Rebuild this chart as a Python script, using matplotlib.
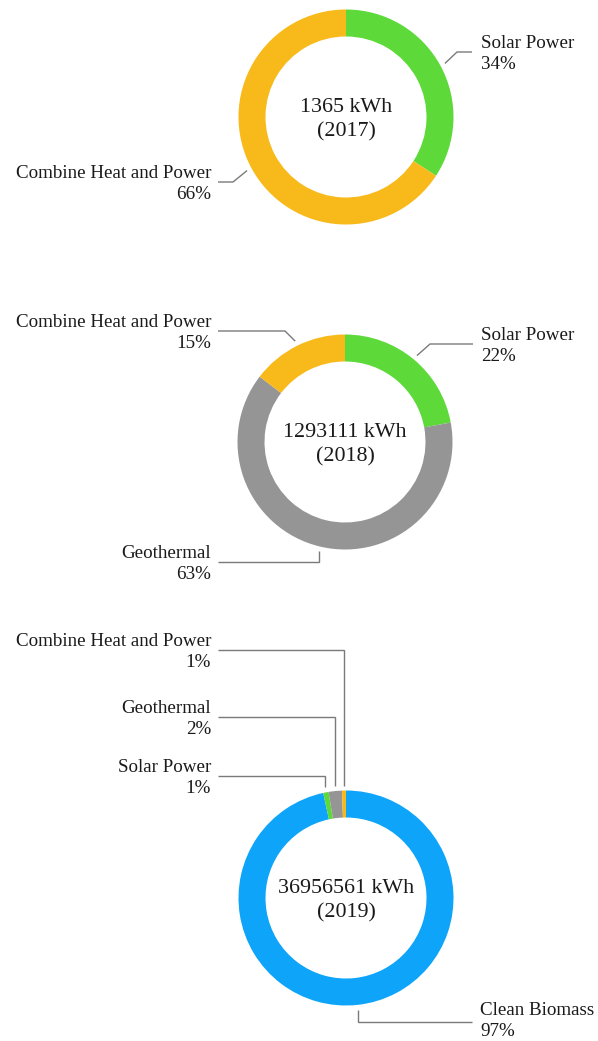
import numpy as np
import matplotlib
matplotlib.use("Agg")
import matplotlib.pyplot as plt

# ---------------- data ----------------
years = ["2017", "2018", "2019"]
totals_kwh = [1365, 1293111, 36956561]

labels_2017 = ["Solar Power", "Combine Heat and Power"]
shares_2017 = [34.2, 65.8]

labels_2018 = ["Solar Power", "Geothermal", "Combine Heat and Power"]
shares_2018 = [22.1, 63.3, 14.6]

labels_2019 = ["Clean Biomass", "Solar Power", "Geothermal", "Combine Heat and Power"]
shares_2019 = [96.6, 0.8, 2.0, 0.6]

category_colors = {
    "Solar Power": "#5DD93A",
    "Combine Heat and Power": "#F8B91B",
    "Geothermal": "#959595",
    "Clean Biomass": "#0DA4FA",
}

# ---------------- layout (pixels, y downward) ----------------
W, H = 598, 1041
centers_px = [(346, 117), (345, 442), (346, 898)]
R_OUT = 107.5
RING_W = 27
R_LEAD = 112.5

# per label: (elbow_x or None for vertical, line_y, end_x, text_x, ha, text_dy)
layouts = [
    [(457, 52, 472, 481, "left", 2), (233, 182, 218, 211, "right", 2)],
    [(430, 344, 473, 481, "left", 2), (None, 562, 218, 211, "right", 2),
     (285, 331, 218, 211, "right", 2)],
    [(None, 1022, 472, 480, "left", -1), (None, 776, 218, 211, "right", 2),
     (None, 717, 218, 211, "right", 2), (None, 650, 218, 211, "right", 2)],
]

plt.rcParams["font.family"] = ["Liberation Serif", "DejaVu Serif"]
TEXT_COLOR = "#1a1a1a"
LINE_COLOR = "#7a7a7a"
LABEL_FS = 13.7
CENTER_FS = 15.8

fig = plt.figure(figsize=(W / 100, H / 100), dpi=100)
ax = fig.add_axes([0, 0, 1, 1])

all_labels = [labels_2017, labels_2018, labels_2019]
all_shares = [shares_2017, shares_2018, shares_2019]

for i in range(3):
    labs = all_labels[i]
    vals = all_shares[i]
    cx, cy_px = centers_px[i]
    cy = H - cy_px
    wedges, _ = ax.pie(
        vals,
        colors=[category_colors[l] for l in labs],
        startangle=90,
        counterclock=False,
        radius=R_OUT,
        center=(cx, cy),
        wedgeprops=dict(width=RING_W, edgecolor="none", linewidth=0),
        frame=True,
    )
    ax.text(cx, cy - 3, f"{totals_kwh[i]} kWh\n({years[i]})", ha="center", va="center",
            fontsize=CENTER_FS, color=TEXT_COLOR, linespacing=1.4)
    for w, lab, val, lay in zip(wedges, labs, vals, layouts[i]):
        ang = np.deg2rad((w.theta1 + w.theta2) / 2.0)
        axp = cx + R_LEAD * np.cos(ang)
        ayp = cy + R_LEAD * np.sin(ang)
        ex, ly, endx, tx, ha, tdy = lay
        ly_d = H - ly
        if ex is None:
            ex = axp
        ax.plot([axp, ex, endx], [ayp, ly_d, ly_d], color=LINE_COLOR, lw=1.0,
                solid_capstyle="butt", solid_joinstyle="miter")
        ax.text(tx, ly_d - tdy, f"{lab}\n{round(val)}%", ha=ha, va="center",
                multialignment=ha, fontsize=LABEL_FS, color=TEXT_COLOR, linespacing=1.36)

ax.set_xlim(0, W)
ax.set_ylim(0, H)
ax.set_aspect("equal")
ax.axis("off")

fig.savefig("out.png", dpi=100, facecolor="white")
